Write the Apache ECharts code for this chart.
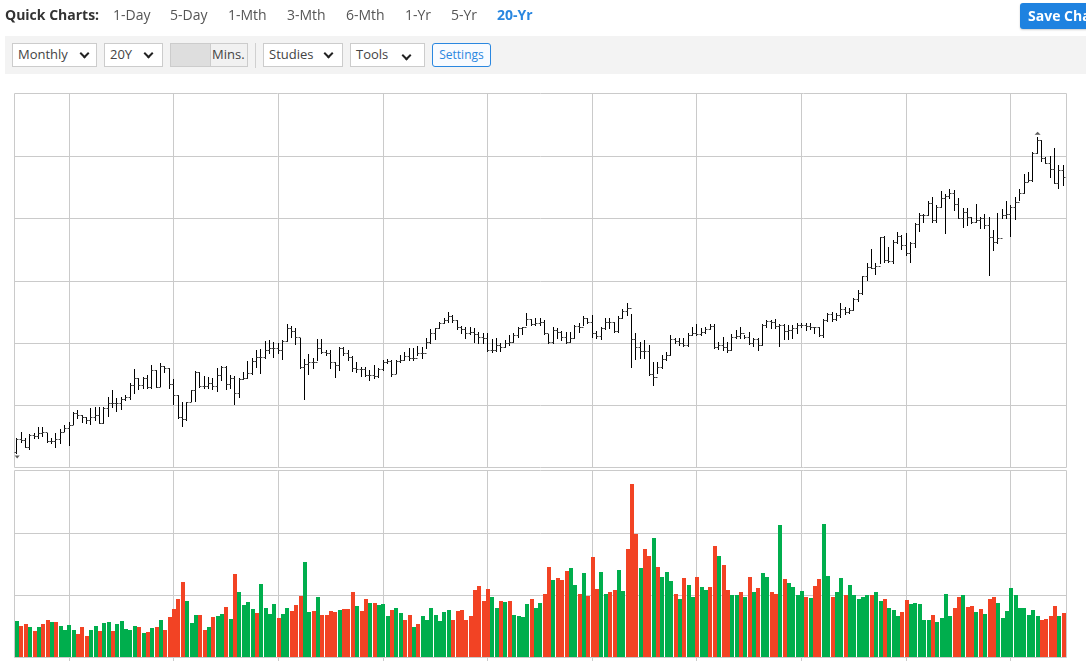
<!DOCTYPE html>
<html><head><meta charset="utf-8">
<script src="https://cdn.jsdelivr.net/npm/echarts@6/dist/echarts.min.js"></script>
<style>
html,body{margin:0;padding:0;background:#fff;width:1086px;height:663px;overflow:hidden;font-family:"Open Sans",sans-serif;color:#444}
#chart{position:absolute;left:0;top:0;width:1086px;height:663px}
.t{position:absolute;white-space:nowrap;font-size:14px;line-height:20px;top:5px}
.strip{position:absolute;left:5px;top:36px;width:1081px;height:38px;background:#f3f3f3}
.box{position:absolute;top:43px;height:22px;border:1px solid #ccc;background:#fff;font-size:13px;line-height:20px;color:#444;padding-left:5px;box-sizing:content-box}
.chev{position:absolute;width:5px;height:5px;border-right:2px solid #222;border-bottom:2px solid #222;transform:rotate(45deg)}
.save{position:absolute;left:1020px;top:3px;width:80px;height:26px;background:#1e82e0;border-radius:3px 0 0 3px;color:#fff;font-weight:700;font-size:14px;line-height:26px;padding-left:8px;box-sizing:border-box;box-shadow:0 1px 2px rgba(0,0,0,.2);white-space:nowrap;overflow:hidden}
</style></head><body>
<div id="chart"></div>
<div id="ui"></div>
<script>
const quickLabel = "Quick Charts:";
const quickItems = ["1-Day","5-Day","1-Mth","3-Mth","6-Mth","1-Yr","5-Yr","20-Yr"];
const quickLefts = [113,170,228,287,346,405,451,497];
const gridTicks = [11.95,35.8,59.88,83.95,107.8,131.88,155.72,179.8,203.88,227.72];
const priceGridTicks = [184.5,370.5,556.5,745.5,931.5];
const volumeGridTicks = [184.5,370.5];

const opens = [45,83,81,61,96,93,101,104,79,79,83,106,116,126,163,156,149,141,151,156,133,176,191,191,191,203,211,246,266,246,266,239,291,239,303,296,249,216,149,143,196,231,286,243,243,251,243,276,301,249,266,221,263,266,281,319,329,329,351,356,356,351,379,416,409,389,299,309,316,316,358,346,341,314,306,356,341,331,296,
294,293,276,276,273,293,316,319,279,319,321,333,326,326,341,341,376,403,416,431,441,453,441,419,413,403,406,399,389,386,351,351,366,359,371,376,396,416,419,443,428,431,436,401,374,411,406,389,376,386,423,419,446,436,403,393,416,436,436,409,446,469,476,383,361,349,349,279,269,301,323,336,383,379,371,366,396,403,399,406,413,423,359,
366,361,351,389,393,401,391,373,383,366,426,438,434,423,426,409,411,416,426,426,423,421,419,396,441,459,444,456,473,466,471,503,523,573,601,596,603,689,621,619,676,694,666,641,671,729,756,756,791,741,781,806,813,821,789,746,766,751,736,741,746,726,689,676,686,756,759,781,796,821,856,861,943,981,926,913,893,853,891];
const highs = [86,104,86,99,103,121,121,103,86,101,113,126,136,165,171,156,151,176,181,181,179,209,231,206,211,216,251,294,268,271,276,306,291,311,304,296,263,216,196,196,231,288,286,273,271,266,296,304,303,276,273,266,286,318,326,351,353,379,381,376,371,381,428,423,416,386,323,338,326,383,383,351,351,316,361,361,351,333,316,
301,301,291,306,296,321,323,321,321,336,344,356,356,363,361,386,414,418,436,446,464,456,441,423,421,421,418,406,401,401,383,386,371,381,396,401,419,419,461,443,446,446,441,399,421,416,409,406,406,426,431,454,448,456,409,421,446,446,436,453,473,491,459,401,376,381,366,316,316,336,346,396,386,386,386,401,419,428,416,419,428,428,376,
391,376,398,411,419,396,404,386,386,429,441,441,444,428,429,426,426,431,431,431,431,421,421,444,463,464,461,491,481,476,506,531,574,613,653,611,691,693,661,681,706,696,701,676,731,763,758,799,809,786,828,819,833,831,806,776,776,751,788,751,758,751,711,763,774,798,786,809,833,879,884,946,989,981,931,933,956,906,906];
const lows = [43,76,59,53,86,88,93,76,73,61,73,108,67,129,146,136,133,128,141,133,133,154,181,169,173,201,205,223,233,236,236,236,239,243,286,236,189,146,124,141,199,199,239,236,236,233,229,261,235,236,189,211,263,266,279,301,283,326,343,331,343,324,379,391,368,296,203,278,296,321,341,336,296,271,291,336,321,289,284,
273,273,261,266,269,291,313,273,281,316,321,321,321,336,326,356,371,384,418,431,436,436,413,401,388,398,376,371,371,349,344,349,349,359,366,376,391,399,426,426,426,426,399,373,373,386,381,371,376,386,406,426,433,391,386,384,414,416,406,406,446,456,301,323,326,328,276,246,281,296,321,336,371,366,363,363,396,396,396,401,413,356,353,
351,344,351,386,386,386,369,364,351,366,419,416,416,364,383,383,386,401,419,411,413,401,393,391,439,439,441,451,459,461,471,499,519,561,596,579,611,616,616,613,671,653,636,616,661,709,736,756,736,736,781,701,806,771,746,721,726,731,736,716,716,576,651,671,746,748,694,744,801,821,858,858,943,919,911,869,851,836,846];
const closes = [83,81,61,96,93,101,104,79,79,83,106,116,126,163,156,149,141,151,156,133,176,191,191,191,203,211,246,266,246,266,239,291,239,303,296,249,216,149,143,196,231,286,243,243,251,243,276,301,249,266,221,263,266,281,319,329,329,351,356,356,351,379,416,409,389,299,309,316,316,358,346,341,314,306,356,341,331,296,294,
293,276,276,273,293,316,319,279,319,321,333,326,326,341,341,376,403,416,431,441,453,441,419,413,403,406,399,389,386,351,351,366,359,371,376,396,416,419,443,428,431,436,401,374,411,406,389,376,386,423,419,446,436,403,393,416,436,436,409,446,469,476,383,361,349,349,279,269,301,323,336,383,379,371,366,396,403,399,406,413,423,359,366,
361,351,389,393,401,391,373,383,366,426,438,434,423,426,409,411,416,426,426,423,421,419,396,441,459,444,456,473,466,471,503,523,573,601,596,603,689,621,619,676,694,666,641,671,729,756,756,791,741,781,806,813,821,789,746,766,751,736,741,746,726,689,676,686,756,759,781,796,821,856,861,943,981,926,913,893,853,891,869];
const volumes = [108,93,99,90,78,90,99,111,105,105,93,81,96,81,69,90,63,81,93,78,102,105,78,99,108,84,81,93,90,72,75,87,90,111,81,120,144,174,225,168,102,126,126,81,90,120,123,129,150,114,249,195,156,165,144,132,219,147,129,159,117,129,147,138,156,183,285,135,138,180,126,126,138,135,141,144,144,195,153,
138,174,162,162,156,159,123,141,147,132,111,126,90,99,123,111,147,126,108,135,141,111,138,141,111,123,201,213,168,204,180,147,168,165,168,126,123,120,159,174,147,162,189,270,231,237,231,258,267,216,189,252,183,300,204,255,189,195,201,261,198,324,519,369,267,324,303,357,270,240,255,228,189,174,237,216,180,240,210,201,210,333,303,
276,201,186,186,195,180,240,195,207,252,240,195,189,396,234,222,210,186,198,180,177,213,234,399,243,180,195,237,186,216,186,174,180,186,186,195,168,174,147,141,123,135,171,159,162,159,111,111,126,105,117,189,123,147,180,186,150,153,135,144,129,174,180,162,117,138,207,186,147,147,126,141,123,111,114,123,153,123,132];
const volumeSides = ("grrgrgrrgr"+"ggggrrrggr"+"ggrgggggrg"+"rgrgrrrrrg"+"ggrrgrggrg"+"rggggrgggg"+"rggrrrggrg"+"rrrrgrrrg"+
"rrgrgggrgg"+"rrgrgggggg"+"grrrrrrrrr"+"ggrgrggggr"+"ggrrgrrrgg"+"rgrrrggrrg"+"grrrgrrgrg"+"ggrgrggrgg"+"rrg"+
"rrggrgrgrg"+"grrgrggggr"+"grrggrggrg"+"ggggrggrgg"+"grrgggggrg"+"gggrrgrrgr"+"grrggggggg"+"gggrrrrgr").split("");
const GREEN = "#00ae4d", RED = "#f24324", GRID = "#cacaca";

// toolbar
const ui = document.getElementById("ui");
let h = `<div class="t" style="left:5px;font-weight:700;color:#333">${quickLabel}</div>`;
quickItems.forEach((q,i)=>{
  const on = q==="20-Yr";
  h += `<div class="t" style="left:${quickLefts[i]}px;${on?'font-weight:700;color:#2a87e0':'color:#555'}">${q}</div>`;
});
h += `<div class="save">Save Chart</div><div class="strip"></div>`;
const box=(l,w,txt,cx,cy)=>`<div class="box" style="left:${l}px;width:${w-7}px">${txt}<span class="chev" style="left:${cx-l-4.5}px;top:${cy-47.5}px"></span></div>`;
h += box(12,85,"Monthly",84,53.5)+box(104,59,"20Y",148,53.5)+box(263,80,"Studies",328,53.5)+box(350,75,"Tools",406,55.5);
h += `<div style="position:absolute;left:170px;top:43px;width:41px;height:24px;background:#dedede;border:1px solid #ccc;border-right:0;box-sizing:border-box"></div>`;
h += `<div style="position:absolute;left:210px;top:43px;width:38px;height:24px;background:#f1f1f1;border:1px solid #ccc;box-sizing:border-box;font-size:13px;line-height:21px;padding-left:1px;color:#444">Mins.</div>`;
h += `<div style="position:absolute;left:255px;top:43px;width:1px;height:25px;background:#d0d0d0"></div>`;
h += `<div style="position:absolute;left:432px;top:43px;width:59px;height:24px;border:1px solid #2a87e0;border-radius:3px;box-sizing:border-box;background:#f8fbff;font-size:12px;line-height:22px;text-align:center;color:#2a87e0">Settings</div>`;
ui.innerHTML = h;

// chart
const priceRows = opens.map((o,i)=>[i,o,highs[i],lows[i],closes[i]]);
const chartHighMark = [234,1001];
const chartLowMark = [0,30];
const volumeRows = volumes.map((v,i)=>[i,v,volumeSides[i]==="g"?1:0]);
const chart = echarts.init(document.getElementById("chart"),null,{renderer:"canvas"});
function xAxisBase(gridIndex,ticks){return {
  type:"value",gridIndex,min:-0.5,max:240.5,
  axisLine:{show:false},axisLabel:{show:false},
  axisTick:{show:ticks,customValues:gridTicks,length:4,lineStyle:{color:GRID,width:1}},
  splitLine:{show:true,lineStyle:{color:GRID,width:1}}
};}
function yAxisBase(gridIndex,max,vals){return {
  type:"value",gridIndex,min:0,max,
  axisLine:{show:false},axisLabel:{show:false},
  axisTick:{show:false,customValues:vals},
  splitLine:{show:true,lineStyle:{color:GRID,width:1}}
};}
const frame=(x,y,w,hh)=>({type:"rect",silent:true,z:1,shape:{x,y,width:w,height:hh},style:{fill:null,stroke:GRID,lineWidth:1}});
chart.setOption({
  animation:false,
  grid:[
    {left:15,width:1051,top:93,height:374,show:false},
    {left:15,width:1051,top:470,height:187,show:false}
  ],
  graphic:[frame(14.5,93.5,1052,374),frame(14.5,470.5,1052,187)],
  xAxis:[xAxisBase(0,false),xAxisBase(1,true)],
  yAxis:[yAxisBase(0,1122,priceGridTicks),yAxisBase(1,561,volumeGridTicks)],
  series:[
    {type:"custom",name:"Volume",xAxisIndex:1,yAxisIndex:1,data:volumeRows,encode:{x:0,y:1},silent:true,clip:false,z:3,
      renderItem(params,api){
        const i=api.value(0);
        const p=api.coord([i,api.value(1)]), b=api.coord([i,0]);
        const x=Math.round(p[0]-2.12), top=Math.round(p[1]), base=Math.round(b[1]);
        return {type:"rect",shape:{x,y:top,width:4,height:base-top},style:{fill:api.value(2)?GREEN:RED}};
      }},
    {type:"custom",name:"Price",xAxisIndex:0,yAxisIndex:0,data:priceRows,encode:{x:0,y:[1,2,3,4]},silent:true,clip:false,z:4,
      renderItem(params,api){
        const i=api.value(0);
        const x=Math.round(api.coord([i,0])[0])-0.5;
        const yy=v=>Math.round(api.coord([i,v])[1])+0.5;
        const yO=yy(api.value(1)),yH=yy(api.value(2)),yL=yy(api.value(3)),yC=yy(api.value(4));
        return {type:"group",children:[
          {type:"line",shape:{x1:x,y1:yH-0.5,x2:x,y2:yL+0.5},style:{stroke:"#000",lineWidth:1,fill:null}},
          {type:"line",shape:{x1:x-2,y1:yO,x2:x,y2:yO},style:{stroke:"#444",lineWidth:1}},
          {type:"line",shape:{x1:x,y1:yC,x2:x+2,y2:yC},style:{stroke:"#444",lineWidth:1}}
        ]};
      }},
    {type:"scatter",name:"High",xAxisIndex:0,yAxisIndex:0,data:[chartHighMark],symbol:"triangle",symbolSize:[6,3],itemStyle:{color:"#333"},silent:true,z:5},
    {type:"scatter",name:"Low",xAxisIndex:0,yAxisIndex:0,data:[chartLowMark],symbol:"triangle",symbolRotate:180,symbolSize:[5,3],itemStyle:{color:"#333"},silent:true,z:5}
  ]
});
</script>
</body></html>
